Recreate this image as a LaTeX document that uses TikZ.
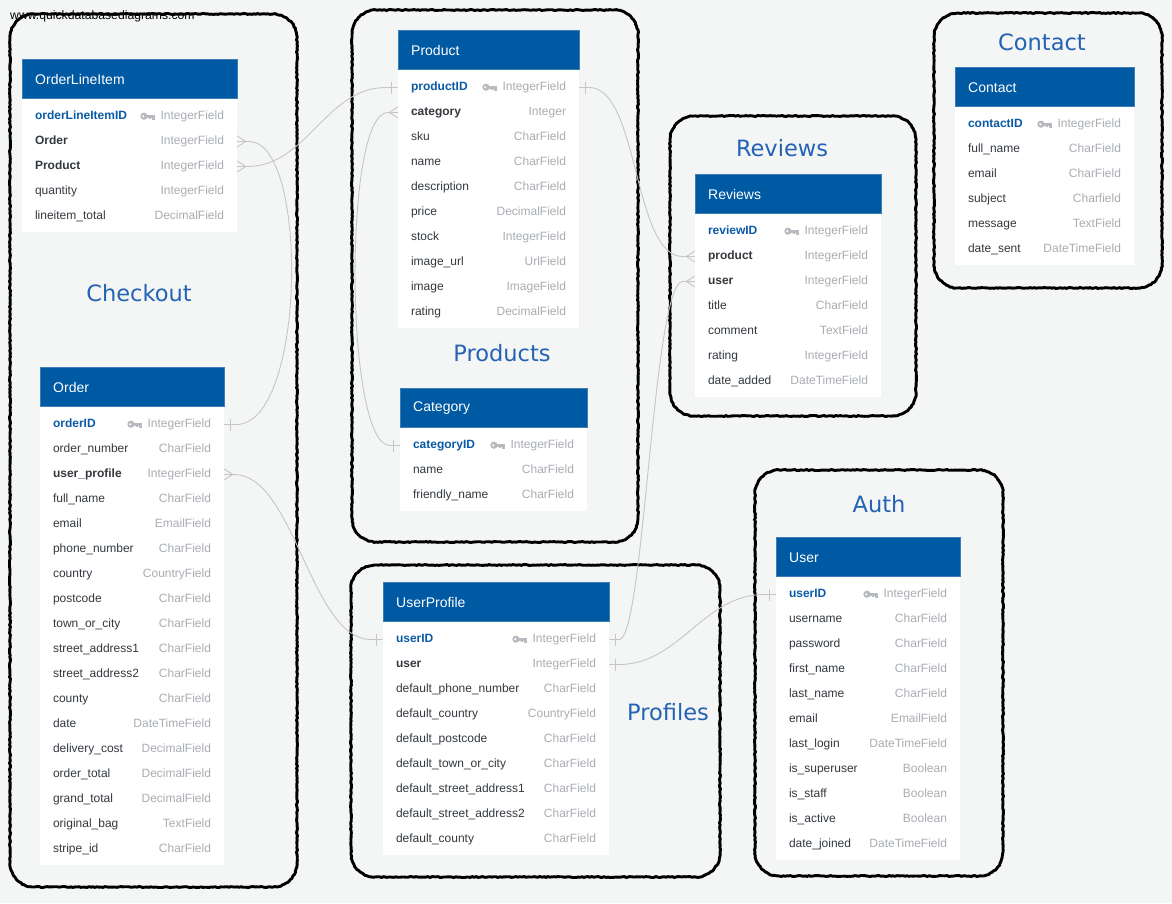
\documentclass[tikz,border=0pt]{standalone}
\usepackage{fontspec}
\setmainfont{Liberation Sans}
\newfontfamily\dejavu{DejaVu Sans}
\usetikzlibrary{calc,decorations.pathmorphing}
\definecolor{bg}{HTML}{F4F5F5}
\definecolor{hdrblue}{HTML}{0059A3}
\definecolor{hdredge}{HTML}{3D7DB8}
\definecolor{pkblue}{HTML}{0B5AA6}
\definecolor{grptxt}{HTML}{2362B4}
\definecolor{typegray}{HTML}{A9ADB2}
\definecolor{namedark}{HTML}{33393F}
\definecolor{conngray}{HTML}{C6C6C6}
\definecolor{keygray}{HTML}{B7BABE}
\tikzset{
  grp/.style={draw=black, line width=2.9pt, line join=round, decorate,
    decoration={random steps, segment length=2pt, amplitude=0.5pt}},
  grplabel/.style={font=\dejavu\fontsize{22.5}{26}\selectfont, text=grptxt, inner sep=0pt},
  hdrtxt/.style={anchor=west, text=white, inner sep=0pt, font=\fontsize{14}{16}\selectfont},
  rowbox/.style={rectangle, minimum height=25pt, inner sep=0pt},
  nametxt/.style={anchor=west, inner sep=0pt, text=namedark, text height=8.6pt, text depth=2.4pt, font=\fontsize{12}{14}\selectfont},
  typetxt/.style={anchor=east, inner sep=0pt, text=typegray, text height=8.6pt, text depth=2.4pt, font=\fontsize{12}{14}\selectfont},
  conn/.style={draw=conngray, line width=0.9pt},
}
\newcommand\grpbox[4]{% x1 y1 x2 y2
  \draw[grp] (#1+24,#2) -- (#3-24,#2) arc[start angle=-90, end angle=0, radius=24]
    -- (#3,#4-24) arc[start angle=0, end angle=90, radius=24]
    -- (#1+24,#4) arc[start angle=90, end angle=180, radius=24]
    -- (#1,#2+24) arc[start angle=180, end angle=270, radius=24] -- cycle;
}
\newcommand\tbl[7]{% id, x1, ytop, x2, title, nrows, rows
  \fill[white] (#2,#3) rectangle (#4,{#3+39+25*#6+9});
  \filldraw[fill=hdrblue, draw=hdredge, line width=0.5pt] (#2+0.25,#3+0.25) rectangle (#4-0.25,#3+39);
  \node[hdrtxt] (#1) at (#2+13,#3+20.5) {#5};
  \foreach \fn/\ft/\fk [count=\i] in {#7} {
    \pgfmathsetmacro\yy{#3+57.5+25*(\i-1)}
    \node[rowbox, minimum width={#4-#2}] (#1-\i) at ({(#2+#4)/2},\yy) {};
    \node[nametxt] (#1-\i-n) at ([xshift=13pt]#1-\i.west)
      {\if p\fk\color{pkblue}\bfseries\else\if f\fk\bfseries\fi\fi\fn};
    \node[typetxt] (#1-\i-t) at ([xshift=-13pt]#1-\i.east) {\ft};
    \if p\fk
      \fill[keygray] ([xshift=-16.5pt,yshift=0.3pt]#1-\i-t.west) circle[radius=3.6pt];
      \fill[white] ([xshift=-17.2pt,yshift=0.3pt]#1-\i-t.west) circle[radius=1.1pt];
      \fill[keygray] ([xshift=-14pt,yshift=1.8pt]#1-\i-t.west) rectangle ([xshift=-5pt,yshift=-1pt]#1-\i-t.west);
      \fill[keygray] ([xshift=-8pt,yshift=-1pt]#1-\i-t.west) rectangle ([xshift=-5.5pt,yshift=-3.3pt]#1-\i-t.west);
      \fill[keygray] ([xshift=-11.2pt,yshift=-1pt]#1-\i-t.west) rectangle ([xshift=-9.4pt,yshift=-2.8pt]#1-\i-t.west);
    \fi
  }
}
\newcommand\crow[2]{% anchor, dir
  \draw[conn] ([yshift=5.5pt]#1) -- ([xshift=#2*8.5pt]#1) -- ([yshift=-5.5pt]#1);
  \draw[conn] (#1) -- ([xshift=#2*9pt]#1);
}
\newcommand\one[2]{% anchor, dir
  \draw[conn] ([xshift=#2*6.5pt,yshift=6pt]#1) -- ([xshift=#2*6.5pt,yshift=-6pt]#1);
}
\begin{document}
\begin{tikzpicture}[x=1pt,y=-1pt]
\fill[bg] (0,0) rectangle (1172,903);
\useasboundingbox (0,0) rectangle (1172,903);

% group boxes
\grpbox{10}{14}{297}{887}
\grpbox{352}{10}{638}{542}
\grpbox{670}{116}{916}{416}
\grpbox{934}{13}{1162}{288}
\grpbox{351}{565}{720}{877}
\grpbox{755}{470}{1003}{876}

\node[grplabel] (lcheckout) at (139,293) {Checkout};
\node[grplabel] (lproducts) at (502,353) {Products};
\node[grplabel] (lreviews) at (782,148) {Reviews};
\node[grplabel] (lcontact) at (1042,42) {Contact};
\node[grplabel] (lprofiles) at (668,712) {Profiles};
\node[grplabel] (lauth) at (879,504) {Auth};

\node[anchor=base west, inner sep=0pt, font=\fontsize{12.2}{14}\selectfont] (wm) at (10,19) {www.quickdatabasediagrams.com};

\tbl{oli}{22}{59}{237}{OrderLineItem}{5}{orderLineItemID/IntegerField/p, Order/IntegerField/f, Product/IntegerField/f, quantity/IntegerField/n, lineitem\_total/DecimalField/n}

\tbl{ord}{40}{367}{224}{Order}{18}{orderID/IntegerField/p, order\_number/CharField/n, user\_profile/IntegerField/f, full\_name/CharField/n, email/EmailField/n, phone\_number/CharField/n, country/CountryField/n, postcode/CharField/n, town\_or\_city/CharField/n, street\_address1/CharField/n, street\_address2/CharField/n, county/CharField/n, date/DateTimeField/n, delivery\_cost/DecimalField/n, order\_total/DecimalField/n, grand\_total/DecimalField/n, original\_bag/TextField/n, stripe\_id/CharField/n}

\tbl{prod}{398}{30}{579}{Product}{10}{productID/IntegerField/p, category/Integer/f, sku/CharField/n, name/CharField/n, description/CharField/n, price/DecimalField/n, stock/IntegerField/n, image\_url/UrlField/n, image/ImageField/n, rating/DecimalField/n}

\tbl{cat}{400}{388}{587}{Category}{3}{categoryID/IntegerField/p, name/CharField/n, friendly\_name/CharField/n}

\tbl{rev}{695}{174}{881}{Reviews}{7}{reviewID/IntegerField/p, product/IntegerField/f, user/IntegerField/f, title/CharField/n, comment/TextField/n, rating/IntegerField/n, date\_added/DateTimeField/n}

\tbl{con}{955}{67}{1134}{Contact}{6}{contactID/IntegerField/p, full\_name/CharField/n, email/CharField/n, subject/Charfield/n, message/TextField/n, date\_sent/DateTimeField/n}

\tbl{up}{383}{582}{609}{UserProfile}{9}{userID/IntegerField/p, user/IntegerField/f, default\_phone\_number/CharField/n, default\_country/CountryField/n, default\_postcode/CharField/n, default\_town\_or\_city/CharField/n, default\_street\_address1/CharField/n, default\_street\_address2/CharField/n, default\_county/CharField/n}

\tbl{usr}{776}{537}{960}{User}{11}{userID/IntegerField/p, username/CharField/n, password/CharField/n, first\_name/CharField/n, last\_name/CharField/n, email/EmailField/n, last\_login/DateTimeField/n, is\_superuser/Boolean/n, is\_staff/Boolean/n, is\_active/Boolean/n, date\_joined/DateTimeField/n}

% connectors
\draw[conn] (oli-2.east) -- ([xshift=12pt]oli-2.east) .. controls +(60,0) and +(70,0) .. ([xshift=12pt]ord-1.east) -- (ord-1.east);
\draw[conn] (oli-3.east) -- ([xshift=10pt]oli-3.east) .. controls +(60,0) and +(-60,0) .. ([xshift=-12pt]prod-1.west) -- (prod-1.west);
\draw[conn] (prod-2.west) -- ([xshift=-10pt]prod-2.west) .. controls +(-45,0) and +(-45,0) .. ([xshift=-10pt]cat-1.west) -- (cat-1.west);
\draw[conn] (prod-1.east) -- ([xshift=10pt]prod-1.east) .. controls +(50,0) and +(-50,0) .. ([xshift=-12pt]rev-2.west) -- (rev-2.west);
\draw[conn] (ord-3.east) -- ([xshift=10pt]ord-3.east) .. controls +(60,0) and +(-60,0) .. ([xshift=-12pt]up-1.west) -- (up-1.west);
\draw[conn] (up-1.east) -- ([xshift=10pt]up-1.east) .. controls +(25,0) and +(-30,0) .. ([xshift=-12pt]rev-3.west) -- (rev-3.west);
\draw[conn] (up-2.east) -- ([xshift=10pt]up-2.east) .. controls +(60,0) and +(-60,0) .. ([xshift=-12pt]usr-1.west) -- (usr-1.west);

\crow{oli-2.east}{1}
\crow{oli-3.east}{1}
\crow{prod-2.west}{-1}
\crow{rev-2.west}{-1}
\crow{ord-3.east}{1}
\crow{rev-3.west}{-1}
\one{ord-1.east}{1}
\one{prod-1.west}{-1}
\one{cat-1.west}{-1}
\one{prod-1.east}{1}
\one{up-1.west}{-1}
\one{up-1.east}{1}
\one{up-2.east}{1}
\one{usr-1.west}{-1}
\end{tikzpicture}
\end{document}
